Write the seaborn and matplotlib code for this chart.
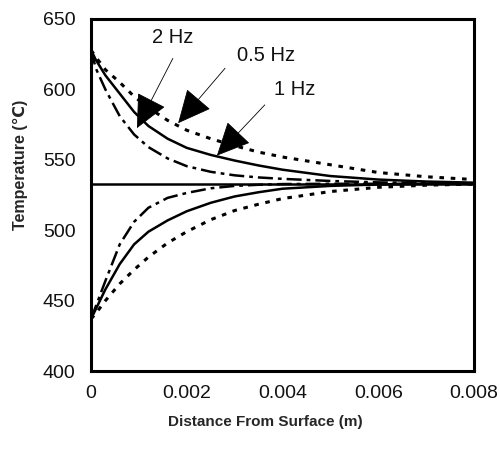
import matplotlib
matplotlib.use("Agg")
import matplotlib.pyplot as plt
import seaborn as sns
import pandas as pd

# distance from surface (m)
dist = [0, 0.0001, 0.0003, 0.0006, 0.0009, 0.0012, 0.0016, 0.002,
        0.0025, 0.003, 0.0035, 0.004, 0.005, 0.006, 0.007, 0.008]

# upper branch (heating), deg C
hot_2hz = [628, 615, 600, 581, 568, 559, 551, 545.5, 541.5, 539, 537.5, 536.5, 535, 534, 533.5, 533]
hot_1hz = [628, 621, 610, 597, 584, 574, 565, 558.5, 553.5, 549.5, 546, 543, 538.5, 536, 534.6, 533.8]
hot_05hz = [628, 623, 614, 605, 595, 587, 578, 571, 565, 560, 555.5, 552, 546.5, 541, 538, 536]

# lower branch (cooling), deg C
cold_2hz = [437, 446, 464, 490, 506, 516, 523, 526.5, 529.8, 531.5, 532.3, 532.8, 533, 533, 533, 533]
cold_1hz = [437, 444, 458, 476, 490, 499, 507, 513.5, 519.5, 524, 527, 529.5, 531.5, 532.5, 533, 533]
cold_05hz = [437, 441, 450, 462, 472, 481, 491, 499, 507.5, 514, 518.5, 522.5, 527.5, 530.5, 532, 532.8]

mean_temp = 533

labels = ["2 Hz", "0.5 Hz", "1 Hz"]
label_xy = [(0.00171, 637), (0.00366, 624), (0.00426, 600)]
tail_xy = [(0.00171, 622), (0.0028, 615), (0.00363, 589)]
tip_xy = [(0.00096, 572.5), (0.00182, 576), (0.00263, 553)]

sns.set_theme(style="white")
plt.rcParams['font.family'] = ['Liberation Sans', 'DejaVu Sans']

fig = plt.figure(figsize=(5.0, 4.51), dpi=100)
ax = fig.add_axes([0.182, 0.177, 0.766, 0.781])

df = pd.DataFrame({"x": dist, "h2": hot_2hz, "h1": hot_1hz, "h05": hot_05hz,
                   "c2": cold_2hz, "c1": cold_1hz, "c05": cold_05hz})

styles = {
    "2": dict(dashes=(6, 2, 1.5, 2), lw=1.8),
    "1": dict(dashes=None, lw=1.8),
    "05": dict(dashes=(1.5, 2.2), lw=2.2),
}
for key, st in styles.items():
    for pre in ("h", "c"):
        sns.lineplot(data=df, x="x", y=pre + key, ax=ax, color="black",
                     linewidth=st["lw"])
        l = ax.lines[-1]
        if st["dashes"] is not None:
            l.set_dashes(st["dashes"])
        l.set_solid_capstyle("butt")
        l.set_solid_joinstyle("round")

ax.axhline(mean_temp, color="black", lw=1.8)

for lab, lp, tp, hp in zip(labels, label_xy, tail_xy, tip_xy):
    ax.text(lp[0], lp[1], lab, ha="center", va="center", fontsize=14.5, color="#111111")
    ax.annotate("", xy=hp, xytext=tp,
                arrowprops=dict(arrowstyle="-|>,head_length=1.8,head_width=0.85",
                                color="black", lw=0.6, shrinkA=0, shrinkB=0))

ax.set_xlim(0, 0.008)
ax.set_ylim(400, 650)
ax.set_xticks([0, 0.002, 0.004, 0.006, 0.008])
ax.set_xticklabels(["0", "0.002", "0.004", "0.006", "0.008"])
ax.set_yticks([400, 450, 500, 550, 600, 650])
ax.tick_params(axis="y", length=0, labelsize=14, colors="#111111", pad=11)
ax.tick_params(axis="x", length=0, labelsize=14, colors="#111111", pad=10)
ax.set_xlabel("Distance From Surface (m)", fontsize=11, fontweight="bold")
ax.set_ylabel("Temperature (\u2103)", fontsize=11.5, fontweight="bold")
ax.xaxis.set_label_coords(0.454, -0.125)
ax.yaxis.set_label_coords(-0.165, 0.585)
for sp in ax.spines.values():
    sp.set_visible(True)
    sp.set_color("black")
    sp.set_linewidth(2.2)

fig.savefig("out.png", dpi=100)
